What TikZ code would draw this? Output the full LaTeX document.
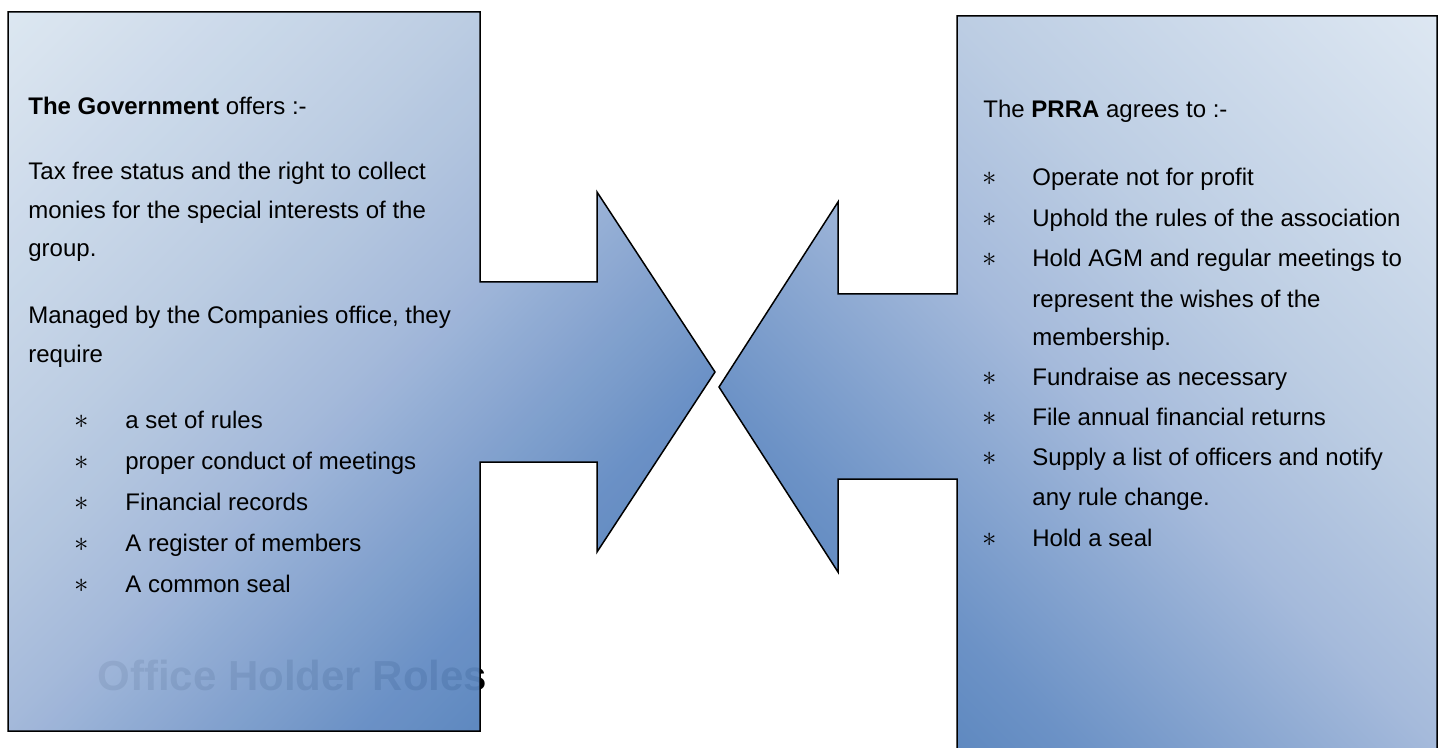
\documentclass[tikz,border=0pt]{standalone}
\usepackage{fontspec}
\setmainfont{Liberation Sans}
% final colours (right shape, opaque)
\definecolor{gA}{RGB}{221,231,242}
\definecolor{gB}{RGB}{188,205,227}
\definecolor{gC}{RGB}{165,186,219}
\definecolor{gD}{RGB}{108,146,198}
\definecolor{gE}{RGB}{95,137,192}
\definecolor{gF}{RGB}{80,127,189}
% compensated colours (left shape, drawn with fill opacity 0.95 over white)
\definecolor{hA}{RGB}{219,230,241}
\definecolor{hB}{RGB}{184,202,225}
\definecolor{hC}{RGB}{160,182,217}
\definecolor{hD}{RGB}{100,140,195}
\definecolor{hE}{RGB}{87,131,189}
\definecolor{hF}{RGB}{71,120,185}
\pgfdeclarehorizontalshading{rgrad}{100bp}{color(0bp)=(gA); color(14.64bp)=(gA); color(37.97bp)=(gB); color(50bp)=(gC); color(67.67bp)=(gD); color(73.33bp)=(gE); color(85.36bp)=(gF); color(100bp)=(gF)}
\pgfdeclarehorizontalshading{lgrad}{100bp}{color(0bp)=(hA); color(14.64bp)=(hA); color(37.97bp)=(hB); color(50bp)=(hC); color(67.67bp)=(hD); color(73.33bp)=(hE); color(85.36bp)=(hF); color(100bp)=(hF)}
\begin{document}
\begin{tikzpicture}[x=0.5pt,y=-0.5pt,
  txt/.style={anchor=base west, inner sep=0pt, font=\fontsize{12}{14}\selectfont},
  bul/.style={anchor=base, inner sep=0pt, font=\fontsize{15}{17}\selectfont},
  ghost/.style={anchor=base west, inner sep=0pt, text=black, font=\fontsize{21}{25}\selectfont\bfseries},
  outline/.style={draw=black, line width=0.75pt, line join=miter}]
\useasboundingbox (0,0) rectangle (1438,748);
\fill[white] (0,0) rectangle (1438,748);
% faint title behind the left panel
\node[ghost] (ghost) at (97,690) {Office Holder Roles};
% left panel with right-pointing arrow
\shade[shading=lgrad, shading angle=-45, fill opacity=0.95, outline]
  (8,12) -- (480,12) -- (480,282) -- (597,282) -- (597,192) -- (715,372)
  -- (597,552) -- (597,462) -- (480,462) -- (480,731) -- (8,731) -- cycle;
% right panel with left-pointing arrow
\shade[shading=rgrad, shading angle=225, outline]
  (957,16) -- (1437,16) -- (1437,760) -- (957,760) -- (957,479) -- (838,479)
  -- (838,572) -- (719,387) -- (838,202) -- (838,294) -- (957,294) -- cycle;
% left text
\node[txt] (l1) at (28,115) {\textbf{The Government} offers :-};
\node[txt] (l2) at (28,180) {Tax free status and the right to collect};
\node[txt] (l3) at (28,218.5) {monies for the special interests of the};
\node[txt] (l4) at (28,257) {group.};
\node[txt] (l5) at (28,323) {Managed by the Companies office, they};
\node[txt] (l6) at (28,362) {require};
\node[bul] (lb1) at (82,428) {$\ast$};
\node[txt] (lt1) at (125,428) {a set of rules};
\node[bul] (lb2) at (82,469) {$\ast$};
\node[txt] (lt2) at (125,469) {proper conduct of meetings};
\node[bul] (lb3) at (82,510) {$\ast$};
\node[txt] (lt3) at (125,510) {Financial records};
\node[bul] (lb4) at (82,551) {$\ast$};
\node[txt] (lt4) at (125,551) {A register of members};
\node[bul] (lb5) at (82,592) {$\ast$};
\node[txt] (lt5) at (125,592) {A common seal};
% right text
\node[txt] (r0) at (983,118) {The \textbf{PRRA} agrees to :-};
\node[bul] (rb1) at (990,186) {$\ast$};
\node[txt] (rt1) at (1032,186) {Operate not for profit};
\node[bul] (rb2) at (990,227) {$\ast$};
\node[txt] (rt2) at (1032,227) {Uphold the rules of the association};
\node[bul] (rb3) at (990,267) {$\ast$};
\node[txt] (rt3) at (1032,267) {Hold AGM and regular meetings to};
\node[txt] (rt3b) at (1032,307) {represent the wishes of the};
\node[txt] (rt3c) at (1032,345) {membership.};
\node[bul] (rb4) at (990,385) {$\ast$};
\node[txt] (rt4) at (1032,385) {Fundraise as necessary};
\node[bul] (rb5) at (990,425) {$\ast$};
\node[txt] (rt5) at (1032,425) {File annual financial returns};
\node[bul] (rb6) at (990,465) {$\ast$};
\node[txt] (rt6) at (1032,465) {Supply a list of officers and notify};
\node[txt] (rt6b) at (1032,505) {any rule change.};
\node[bul] (rb7) at (990,546) {$\ast$};
\node[txt] (rt7) at (1032,546) {Hold a seal};
\end{tikzpicture}
\end{document}
